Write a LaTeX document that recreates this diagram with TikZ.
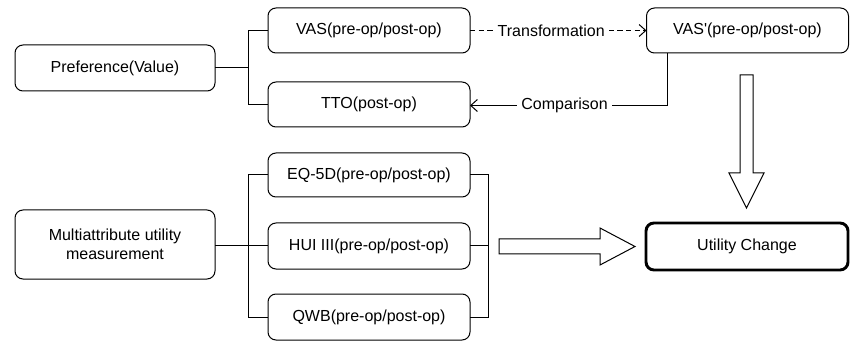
\documentclass[tikz,border=0pt]{standalone}
\usepackage{fontspec}
\setmainfont{Liberation Sans}
\usetikzlibrary{arrows.meta}
\begin{document}
\begin{tikzpicture}[x=0.75pt,y=-0.75pt,
  font=\fontsize{12}{14}\selectfont,
  box/.style={draw, rounded corners=6pt, line width=0.75pt, inner sep=0pt, outer sep=0pt,
    minimum width=151.5pt, minimum height=33.75pt, align=center},
  conn/.style={line width=0.75pt},
  tip/.style={-{Straight Barb[length=5pt,width=9pt,line width=0.75pt]}},
  lbl/.style={fill=white, inner sep=3pt},
  hollow/.style={draw, line width=0.75pt, fill=white}]
\useasboundingbox (0,0) rectangle (850,342);

% left column
\node[box, minimum width=150pt, minimum height=34.5pt] (pref) at (115,68) {Preference(Value)};
\node[box, minimum width=150pt, minimum height=51.75pt] (multi) at (115,244.5) {Multiattribute utility\\measurement};

% middle column
\node[box] (vas) at (369,30.5) {VAS(pre-op/post-op)};
\node[box] (tto) at (369,104.5) {TTO(post-op)};
\node[box, minimum height=33pt] (eq) at (369,175) {EQ-5D(pre-op/post-op)};
\node[box, minimum height=34.5pt] (hui) at (369,246) {HUI III(pre-op/post-op)};
\node[box, minimum height=34.5pt] (qwb) at (369,317) {QWB(pre-op/post-op)};

% right column
\node[box] (vasp) at (747.5,30.5) {VAS\textquotesingle(pre-op/post-op)};
\node[box, line width=2.2pt, minimum height=35.25pt] (util) at (747,246.5) {Utility Change};

% brackets
\draw[conn] (pref.east) -- (248,68);
\draw[conn] (vas.west) -- ++(-20,0) |- (tto.west);
\draw[conn] (hui.west -| multi.east) -- (hui.west);
\draw[conn] (eq.west) -- ++(-20,0) |- (qwb.west);
\draw[conn] (eq.east) -- ++(18,0) |- (qwb.east);
\draw[conn] (hui.east) -- ++(18,0);

% transformation and comparison
\draw[conn, tip, dash pattern=on 4pt off 2.5pt] (vas.east) -- node[lbl, pos=0.46] (trans) {Transformation} (vasp.west);
\coordinate (cmpturn) at (667,105.5);
\draw[conn, tip] (vasp.south -| cmpturn) -- (cmpturn) -- node[lbl, pos=0.52] (cmp) {Comparison} (cmpturn -| tto.east);

% hollow block arrows
\draw[hollow] (740,75) -- (753,75) -- (753,173) -- (764,173) -- (746.5,208)
  -- (729,173) -- (740,173) -- cycle;
\draw[hollow] (499,239) -- (600,239) -- (600,228) -- (635,246.5) -- (600,265)
  -- (600,254) -- (499,254) -- cycle;
\end{tikzpicture}
\end{document}
